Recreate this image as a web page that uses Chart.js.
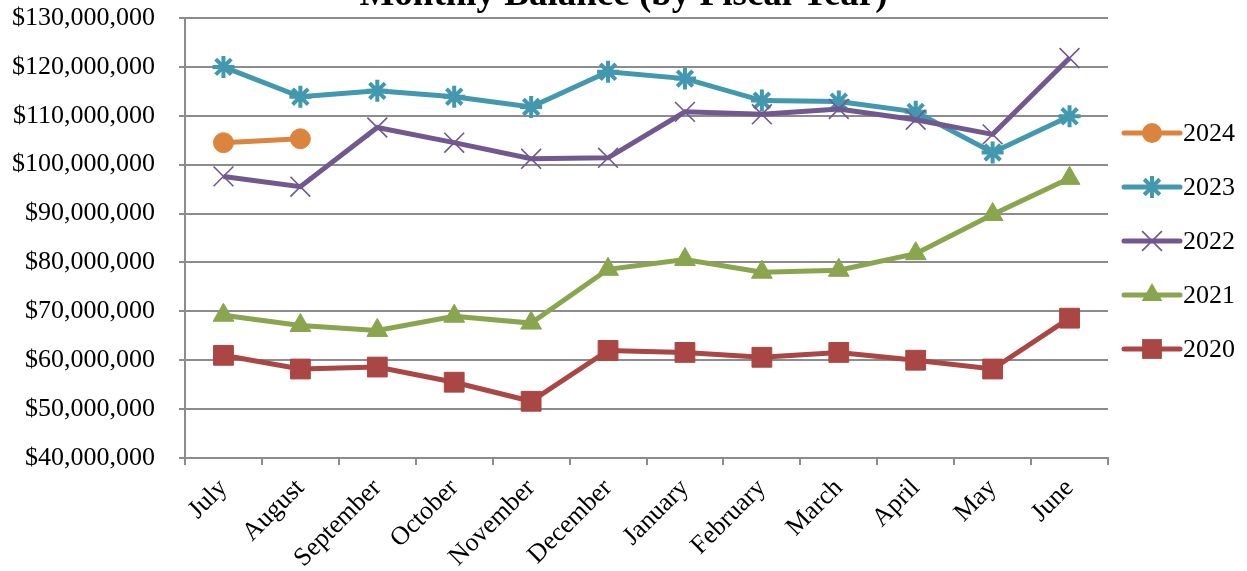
<!DOCTYPE html>
<html>
<head>
<meta charset="utf-8">
<script src="https://cdn.jsdelivr.net/npm/chart.js@4/dist/chart.umd.min.js"></script>
<style>
  html, body { margin: 0; padding: 0; background: #fff; overflow: hidden; }
  #wrap { position: absolute; left: 0; top: 0; width: 1247px; height: 571px; }
</style>
</head>
<body>
<div id="wrap"><canvas id="chart"></canvas></div>
<script>
// Meses do ano fiscal
const months = ['July', 'August', 'September', 'October', 'November', 'December',
  'January', 'February', 'March', 'April', 'May', 'June'];

// Saldos mensais por ano fiscal
const fy2024 = [104500000, 105300000];
const fy2023 = [120000000, 113900000, 115100000, 113900000, 111800000, 119000000,
  117600000, 113100000, 112900000, 110800000, 102500000, 109900000];
const fy2022 = [97600000, 95500000, 107600000, 104500000, 101200000, 101400000,
  110800000, 110300000, 111400000, 109200000, 106200000, 121800000];
const fy2021 = [69200000, 67100000, 66100000, 69000000, 67600000, 78600000,
  80600000, 78000000, 78400000, 81800000, 89800000, 97200000];
const fy2020 = [61000000, 58200000, 58600000, 55500000, 51600000, 62000000,
  61600000, 60600000, 61600000, 60000000, 58200000, 68600000];

const seriesNames = ['2024', '2023', '2022', '2021', '2020'];
const seriesData = [fy2024, fy2023, fy2022, fy2021, fy2020];
const seriesColors = ['#DB843D', '#4198AF', '#71588F', '#89A54E', '#AA4643'];

const FONT = '"Liberation Serif", "Times New Roman", serif';
const GRID = '#8c8c8c';

const markers = [
  { style: 'circle', radius: 10, width: 1 },
  { style: 'star', radius: 11, width: 4 },
  { style: 'crossRot', radius: 14, width: 1.6 },
  { style: 'triangle', radius: 12, width: 1 },
  { style: 'rect', radius: 14, width: 1 }
];

const fmtMoney = v => '$' + Math.round(v).toLocaleString('en-US');

/** Desenha um marcador simples na legenda */
function drawMarker(ctx, m, color, x, y) {
  ctx.save();
  ctx.fillStyle = color;
  ctx.strokeStyle = color;
  ctx.lineWidth = m.width;
  ctx.beginPath();
  const r = m.radius;
  if (m.style === 'circle') {
    ctx.arc(x, y, r, 0, Math.PI * 2);
    ctx.fill();
  } else if (m.style === 'rect') {
    const s = r * Math.SQRT1_2;
    ctx.fillRect(x - s, y - s, 2 * s, 2 * s);
  } else if (m.style === 'triangle') {
    ctx.moveTo(x, y - r);
    ctx.lineTo(x + r * 0.866, y + r * 0.5);
    ctx.lineTo(x - r * 0.866, y + r * 0.5);
    ctx.closePath();
    ctx.fill();
  } else if (m.style === 'crossRot') {
    const o = r * Math.SQRT1_2;
    ctx.moveTo(x - o, y - o); ctx.lineTo(x + o, y + o);
    ctx.moveTo(x - o, y + o); ctx.lineTo(x + o, y - o);
    ctx.stroke();
  } else if (m.style === 'star') {
    const o = r * Math.SQRT1_2;
    ctx.moveTo(x, y - r); ctx.lineTo(x, y + r);
    ctx.moveTo(x - r, y); ctx.lineTo(x + r, y);
    ctx.moveTo(x - o, y - o); ctx.lineTo(x + o, y + o);
    ctx.moveTo(x - o, y + o); ctx.lineTo(x + o, y - o);
    ctx.stroke();
  }
  ctx.restore();
}

/** Título cortado no topo, centrado no canvas */
const topTitle = {
  id: 'topTitle',
  afterDraw(chart) {
    const { ctx, width } = chart;
    ctx.save();
    ctx.fillStyle = '#000';
    ctx.font = 'bold 37px ' + FONT;
    ctx.textAlign = 'center';
    ctx.textBaseline = 'alphabetic';
    ctx.fillText('Monthly Balance (by Fiscal Year)', width / 2, 5);
    ctx.restore();
  }
};

/** Legenda à direita com linha + marcador */
const sideLegend = {
  id: 'sideLegend',
  afterDraw(chart) {
    const { ctx, chartArea } = chart;
    const first = chartArea.top + 115;
    const step = 54;
    const x0 = chartArea.right + 16;
    const x1 = x0 + 56;
    seriesNames.forEach((name, i) => {
      const y = first + i * step;
      ctx.save();
      ctx.strokeStyle = seriesColors[i];
      ctx.lineWidth = 5;
      ctx.lineCap = 'round';
      ctx.beginPath();
      ctx.moveTo(x0, y);
      ctx.lineTo(x1, y);
      ctx.stroke();
      ctx.restore();
      drawMarker(ctx, markers[i], seriesColors[i], (x0 + x1) / 2, y);
      ctx.save();
      ctx.fillStyle = '#000';
      ctx.font = '26px ' + FONT;
      ctx.textBaseline = 'middle';
      ctx.fillText(name, x1 + 3, y + 1);
      ctx.restore();
    });
  }
};

new Chart(document.getElementById('chart'), {
  type: 'line',
  data: {
    labels: months,
    datasets: seriesNames.map((name, i) => ({
      label: name,
      data: seriesData[i],
      borderColor: seriesColors[i],
      backgroundColor: seriesColors[i],
      borderWidth: 5,
      tension: 0,
      pointStyle: markers[i].style,
      pointRadius: markers[i].radius,
      pointBorderWidth: markers[i].width,
      pointBorderColor: seriesColors[i],
      pointBackgroundColor: seriesColors[i],
      order: seriesNames.length - i
    }))
  },
  options: {
    responsive: true,
    maintainAspectRatio: false,
    animation: false,
    layout: { padding: { left: 10, right: 139, bottom: 0, top: 18 } },
    scales: {
      x: {
        offset: true,
        afterFit: scale => { scale.height = 113; },
        grid: { display: true, drawOnChartArea: false, offset: true, color: GRID, lineWidth: 2, tickLength: 7 },
        border: { color: GRID, width: 2 },
        ticks: { color: '#000', font: { family: FONT, size: 26 }, minRotation: 45, maxRotation: 45, padding: 8, autoSkip: false }
      },
      y: {
        min: 40000000,
        max: 130000000,
        afterFit: scale => { scale.width = 175; scale.paddingTop = 0; scale.paddingBottom = 0; },
        grid: { color: GRID, lineWidth: 2, tickLength: 6 },
        border: { color: GRID, width: 2 },
        ticks: { stepSize: 10000000, color: '#000', font: { family: FONT, size: 26 }, padding: 24, callback: v => fmtMoney(v) }
      }
    },
    plugins: {
      legend: { display: false },
      tooltip: { enabled: false },
      title: { display: false }
    }
  },
  plugins: [topTitle, sideLegend]
});
</script>
</body>
</html>
